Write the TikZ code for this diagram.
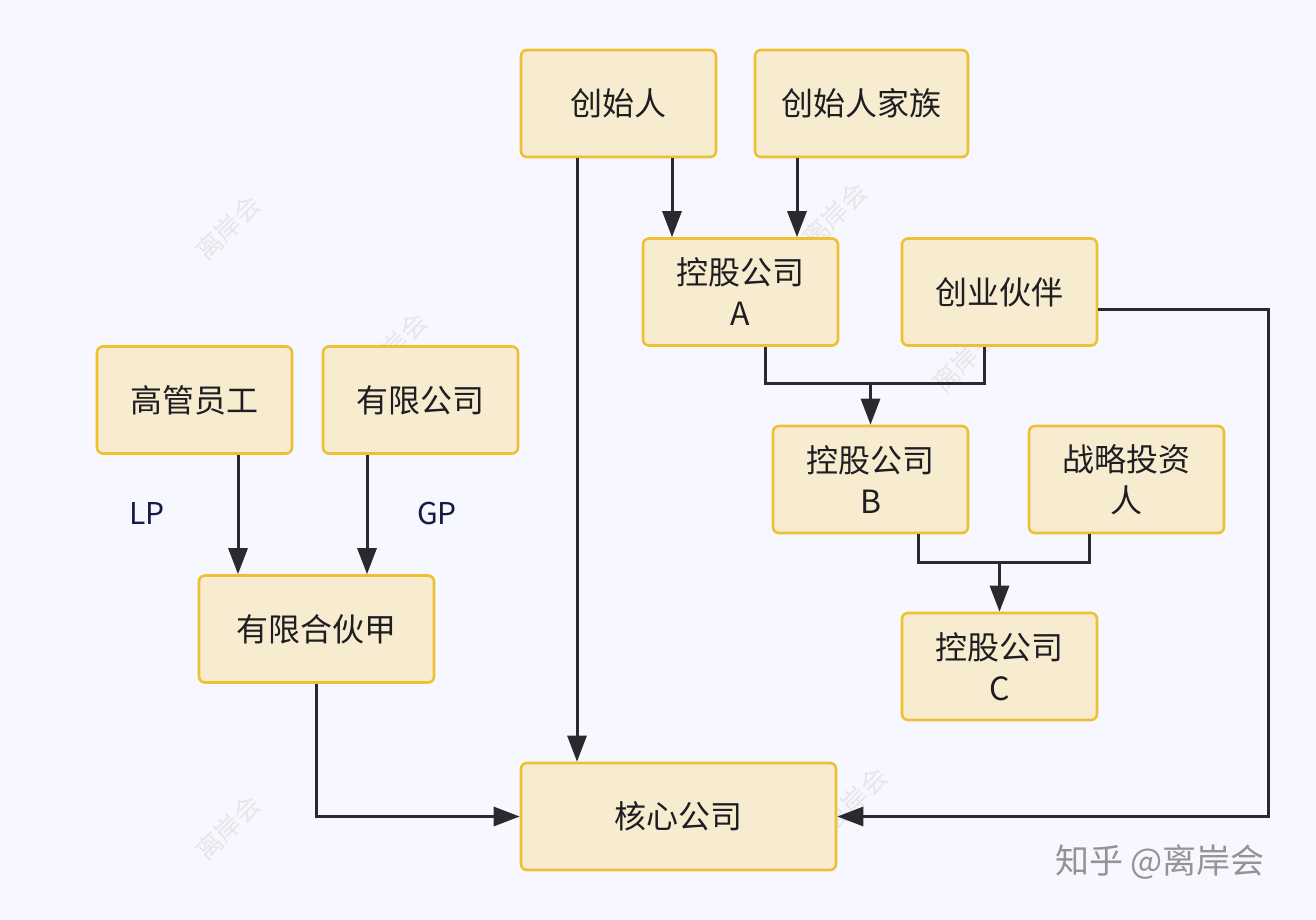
\documentclass[tikz,border=0pt]{standalone}
\usepackage{fontspec}
\setmainfont{Noto Sans CJK SC}
\newfontfamily\cjk{Noto Sans CJK SC}
\newfontfamily\cjkl{Noto Sans CJK SC Light}
\usetikzlibrary{arrows.meta,calc}
\definecolor{boxfill}{HTML}{F8ECD0}
\definecolor{boxline}{HTML}{EEC034}
\definecolor{linec}{HTML}{2A2A2E}
\definecolor{txt}{HTML}{1E1E22}
\definecolor{wm}{HTML}{E6E6EA}
\tikzset{
  x=1pt,y=-1pt,
  box/.style={draw=boxline,fill=boxfill,line width=2.6pt,rounded corners=6pt,
    minimum height=107pt,align=center,font=\cjk\fontsize{32}{41}\selectfont,text=txt,inner sep=0pt},
  conn/.style={draw=linec,line width=3pt},
  arr/.style={conn,-{Triangle[length=26pt,width=19pt]}},
  lbl/.style={font=\cjk\fontsize{30}{32}\selectfont,text=txt!85!blue},
  wmk/.style={font=\cjk\fontsize{26}{26}\selectfont,text=wm,rotate=45}
}
\begin{document}
\begin{tikzpicture}
\fill[white!97!blue] (0,0) rectangle (1316,920);
\useasboundingbox (0,0) rectangle (1316,920);
% faint watermarks
\node[wmk] (w1) at (228,228) {离岸会};
\node[wmk] (w2) at (228,828) {离岸会};
\node[wmk] (w3) at (835,215) {离岸会};
\node[wmk] (w4) at (965,360) {离岸会};
\node[wmk] (w5) at (395,345) {离岸会};
\node[wmk] (w6) at (855,800) {离岸会};
% boxes
\node[box,minimum width=195pt] (f)  at (618.5,103.5) {创始人};
\node[box,minimum width=213pt] (ff) at (861.5,103.5) {创始人家族};
\node[box,minimum width=195pt] (a)  at (740.5,292) {控股公司\\A};
\node[box,minimum width=195pt] (p)  at (999.5,292) {创业伙伴};
\node[box,minimum width=195pt] (e)  at (194.5,400) {高管员工};
\node[box,minimum width=195pt] (l)  at (420.5,400) {有限公司};
\node[box,minimum width=195pt] (b)  at (870.5,479.5) {控股公司\\B};
\node[box,minimum width=195pt] (s)  at (1126.5,479.5) {战略投资\\人};
\node[box,minimum width=235pt] (h)  at (316.5,629) {有限合伙甲};
\node[box,minimum width=195pt] (c)  at (999.5,666.5) {控股公司\\C};
\node[box,minimum width=315pt] (k)  at (678.5,816.5) {核心公司};
% labels
\node[lbl] (lp) at (147,513) {LP};
\node[lbl] (gp) at (437,513) {GP};
% junctions
\coordinate (jab) at (870.5,383);
\coordinate (jbc) at (999.5,562);
\coordinate (rp) at (1268,309);
% connectors
\draw[arr] (f.south -| 577,0) -- (k.north -| 577,0);
\draw[arr] (f.south -| 672,0) -- (a.north -| 672,0);
\draw[arr] (ff.south -| 797,0) -- (a.north -| 797,0);
\draw[conn] (a.south -| 765,0) |- (jab);
\draw[conn] (p.south -| 984,0) |- (jab);
\draw[arr] (jab) -- (b.north);
\draw[conn] (b.south -| 918,0) |- (jbc);
\draw[conn] (s.south -| 1089,0) |- (jbc);
\draw[arr] (jbc) -- (c.north);
\draw[arr] (e.south -| 238,0) -- (h.north -| 238,0);
\draw[arr] (l.south -| 367,0) -- (h.north -| 367,0);
\draw[arr] (h.south) |- (k.west);
\draw[arr] (p.east |- rp) -- (rp) |- (k.east);
% footer watermark
\node[font=\cjk\fontsize{34}{34}\selectfont,text=black!42] (z) at (1160,862) {知乎 @离岸会};
\end{tikzpicture}
\end{document}
